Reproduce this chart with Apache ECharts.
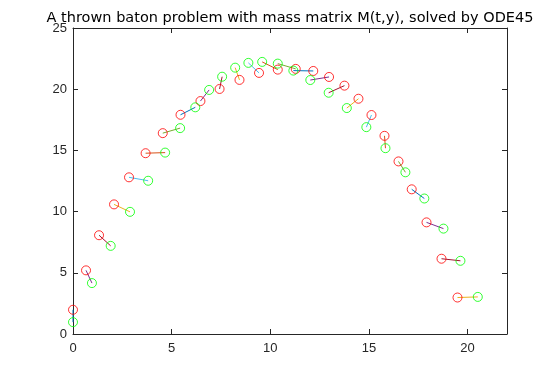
<!DOCTYPE html>
<html>
<head>
<meta charset="utf-8">
<script src="https://cdn.jsdelivr.net/npm/echarts@6/dist/echarts.min.js"></script>
<style>html,body{margin:0;padding:0;background:#fff;}#c{width:560px;height:375px;}</style>
</head>
<body>
<div id="c"></div>
<script>
// End 1 of the baton (red circles)
const redX = [0, 0.66, 1.32, 2.08, 2.84, 3.68, 4.55, 5.45, 6.46, 7.43, 8.44, 9.43, 10.38, 11.29, 12.18, 12.98, 13.76, 14.47, 15.13, 15.79, 16.50, 17.17, 17.92, 18.68, 19.49];
const redY = [1.98, 5.20, 8.07, 10.59, 12.80, 14.77, 16.41, 17.91, 19.03, 20.02, 20.76, 21.33, 21.60, 21.66, 21.49, 21.00, 20.29, 19.22, 17.89, 16.19, 14.10, 11.82, 9.12, 6.15, 2.98];
// End 2 of the baton (green circles)
const greenX = [0, 0.96, 1.91, 2.89, 3.81, 4.67, 5.43, 6.20, 6.90, 7.56, 8.22, 8.89, 9.59, 10.38, 11.17, 12.03, 12.96, 13.88, 14.87, 15.84, 16.85, 17.81, 18.78, 19.64, 20.52];
const greenY = [0.97, 4.16, 7.20, 9.98, 12.52, 14.82, 16.82, 18.52, 19.94, 21.02, 21.76, 22.15, 22.23, 22.09, 21.52, 20.75, 19.71, 18.46, 16.90, 15.18, 13.21, 11.07, 8.61, 5.98, 3.03];
const xTicks = [0, 5, 10, 15, 20];
const yTicks = [0, 5, 10, 15, 20, 25];
const titleText = 'A thrown baton problem with mass matrix M(t,y), solved by ODE45';

const segColors = ['#0072BD', '#7E2F8E', '#A2142F', '#EDB120', '#4DBEEE', '#D95319', '#77AC30'];
const axisColor = '#262626';
const font = 'Liberation Sans, Arial, sans-serif';

const series = [];
for (let i = 0; i < redX.length; i++) {
  series.push({
    type: 'line',
    data: [[redX[i], redY[i]], [greenX[i], greenY[i]]],
    showSymbol: false,
    symbol: 'none',
    silent: true,
    lineStyle: { color: segColors[i % segColors.length], width: 1 },
    z: 2
  });
}
series.push({
  type: 'scatter',
  data: redX.map((x, i) => [x, redY[i]]),
  symbol: 'circle',
  symbolSize: 9,
  itemStyle: { color: 'rgba(0,0,0,0)', borderColor: '#FF0000', borderWidth: 1 },
  z: 3
});
series.push({
  type: 'scatter',
  data: greenX.map((x, i) => [x, greenY[i]]),
  symbol: 'circle',
  symbolSize: 9,
  itemStyle: { color: 'rgba(0,0,0,0)', borderColor: '#00FF00', borderWidth: 1 },
  z: 3
});

const common = {
  axisLine: { show: true, onZero: false, lineStyle: { color: axisColor, width: 1 } },
  axisTick: { show: true, inside: true, length: 5, lineStyle: { color: axisColor } },
  splitLine: { show: false }
};

const chart = echarts.init(document.getElementById('c'), null, { renderer: 'canvas' });
chart.setOption({
  animation: false,
  backgroundColor: '#ffffff',
  title: {
    text: titleText,
    left: 285, textAlign: 'center', top: 6,
    textStyle: { fontFamily: 'DejaVu Sans, sans-serif', fontSize: 14.5, fontWeight: 'normal', color: '#000' }
  },
  grid: { left: 73, right: 53, top: 28, bottom: 41 },
  xAxis: [
    Object.assign({}, common, {
      type: 'value', min: 0, max: 22, interval: 5, position: 'bottom',
      axisLabel: { color: axisColor, fontFamily: font, fontSize: 13, margin: 8, showMaxLabel: false,
        formatter: v => xTicks.includes(v) ? String(v) : '' }
    }),
    Object.assign({}, common, {
      type: 'value', min: 0, max: 22, interval: 5, position: 'top',
      axisLabel: { show: false }
    })
  ],
  yAxis: [
    Object.assign({}, common, {
      type: 'value', min: 0, max: 25, interval: 5, position: 'left',
      axisLabel: { color: axisColor, fontFamily: font, fontSize: 13, margin: 6,
        formatter: v => yTicks.includes(v) ? String(v) : '' }
    }),
    Object.assign({}, common, {
      type: 'value', min: 0, max: 25, interval: 5, position: 'right',
      axisLabel: { show: false }
    })
  ],
  series: series
});
</script>
</body>
</html>
